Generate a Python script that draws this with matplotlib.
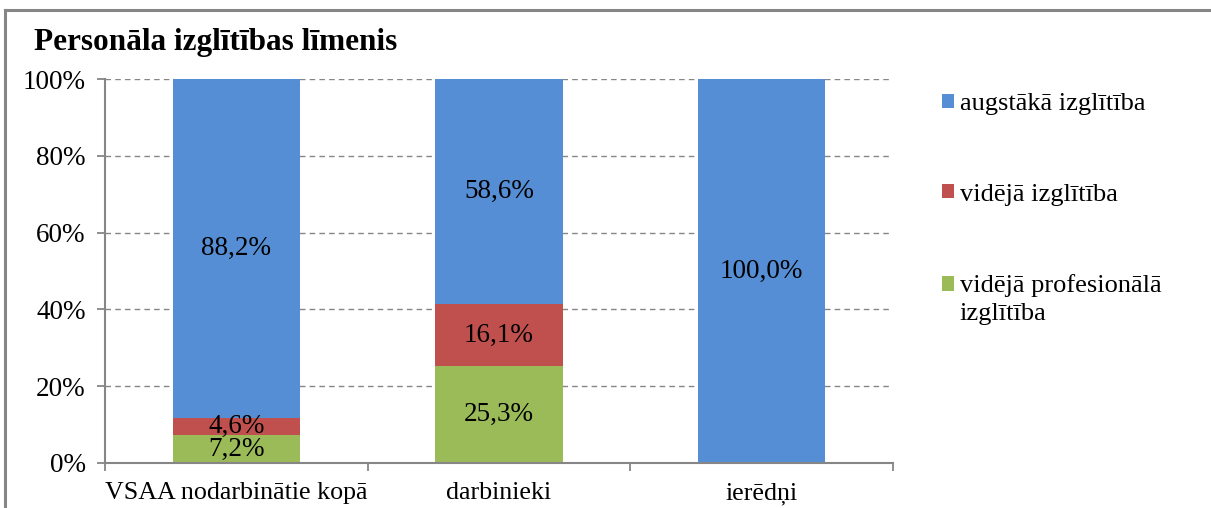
import matplotlib
matplotlib.use("Agg")
import matplotlib.pyplot as plt
from matplotlib.patches import Patch
from matplotlib.lines import Line2D
import numpy as np

categories = ["VSAA nodarbinātie kopā", "darbinieki", "ierēdņi"]
series_names = ["vidējā profesionālā\nizglītība", "vidējā izglītība", "augstākā izglītība"]
prof = [7.2, 25.3, 0.0]
vid = [4.6, 16.1, 0.0]
augst = [88.2, 58.6, 100.0]
colors = ["#9BBB59", "#C0504D", "#558ED5"]
yticks = [0, 20, 40, 60, 80, 100]
title = "Personāla izglītības līmenis"

plt.rcParams['font.family'] = ['Liberation Serif', 'DejaVu Serif']
FS = 19.5
GRAY = "#868686"

fig = plt.figure(figsize=(12.11, 5.08), dpi=100)
ax = fig.add_axes([105/1211, 1-463/508, (893-105)/1211, (463-79)/508])

x = np.arange(len(categories))
width = 0.485
bottom = np.zeros(len(categories))
series = [prof, vid, augst]
for vals, col in zip(series, colors):
    vals = np.array(vals)
    ax.bar(x, vals, width, bottom=bottom, color=col, zorder=2)
    for xi, v, b in zip(x, vals, bottom):
        if v > 0:
            ax.text(xi, b + v/2, f"{v:.1f}%".replace(".", ","), ha="center", va="center",
                    fontsize=FS, color="black", zorder=3)
    bottom += vals

ax.set_xlim(-0.5, 2.5)
ax.set_ylim(0, 100)
ax.set_yticks(yticks)
ax.set_yticklabels([f"{t}%" for t in yticks], fontsize=FS)
ax.set_xticks(x)
ax.set_xticklabels(categories, fontsize=18.7)
ax.set_xticks([-0.5, 0.5, 1.5, 2.5], minor=True)
ax.tick_params(axis="x", which="major", length=0, pad=14)
ax.tick_params(axis="x", which="minor", length=6, width=1.3, color=GRAY)
ax.tick_params(axis="y", length=6, width=1.3, color=GRAY, pad=8)
for s in ["top", "right"]:
    ax.spines[s].set_visible(False)
for s in ["left", "bottom"]:
    ax.spines[s].set_color(GRAY)
    ax.spines[s].set_linewidth(1.5)
ax.yaxis.grid(True, color=GRAY, linestyle=(0, (4, 3)), linewidth=1.0, zorder=0)
ax.set_axisbelow(True)

# legend
LFS = 19
handles = [Patch(facecolor=colors[2]), Patch(facecolor=colors[1]), Patch(facecolor=colors[0])]
labels = [series_names[2], series_names[1], series_names[0]]
leg = fig.legend(handles, labels, loc="upper left", bbox_to_anchor=(942/1211, 1-93/508),
                 frameon=False, fontsize=LFS, handlelength=0.45, handleheight=0.45,
                 handletextpad=0.22, labelspacing=2.6, borderpad=0, borderaxespad=0)
lsp = 1.35
leg.get_texts()[2].set_linespacing(lsp)
# move third marker up to first line of its two-line label
h3 = leg.legend_handles[2]
h3.set_y(h3.get_y() + 0.43 * LFS * lsp)

# title
fig.text(34/1211, 1-50/508, title, fontsize=22.5, fontweight="bold", ha="left", va="baseline")

# chart border (top and left)
fig.add_artist(Line2D([5/1211, 5/1211], [0, 1-9.5/508], color=GRAY, linewidth=2.2, transform=fig.transFigure))
fig.add_artist(Line2D([5/1211, 1], [1-9.5/508, 1-9.5/508], color=GRAY, linewidth=2.2, transform=fig.transFigure))

fig.savefig("out.png", dpi=100)
